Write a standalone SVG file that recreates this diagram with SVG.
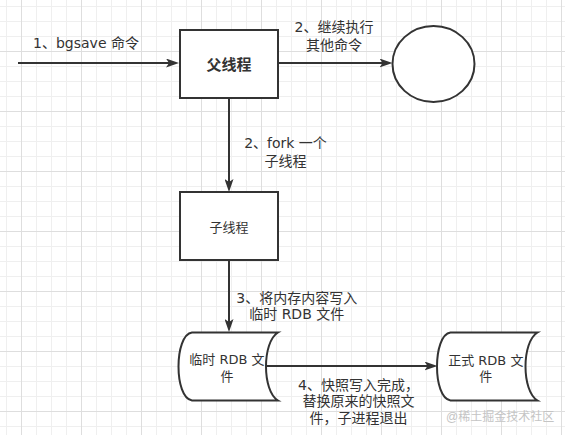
<svg xmlns="http://www.w3.org/2000/svg" width="565" height="435" viewBox="0 0 565 435">
<style>
  .shape{fill:#ffffff;stroke:#333333;stroke-width:2}
  .edge{fill:none;stroke:#333333;stroke-width:2}
  .lbl{font-family:"Liberation Sans","Noto Sans CJK SC",sans-serif;font-size:14px;fill:#333333;text-anchor:middle}
  .ntxt{font-family:"Liberation Sans","Noto Sans CJK SC",sans-serif;font-size:13px;fill:#333333;text-anchor:middle}
  .lat{font-family:"DejaVu Sans","Liberation Sans",sans-serif}
  .bold{font-size:15px;font-weight:bold}
  .wm{font-family:"Liberation Sans","Noto Sans CJK SC",sans-serif;font-size:12px;fill:#c4c4c4}
</style>
<defs>
  <pattern id="grid" x="21" y="51" width="60" height="60" patternUnits="userSpaceOnUse">
    <rect x="15" y="0" width="1" height="60" fill="#efefef"/>
    <rect x="30" y="0" width="1" height="60" fill="#efefef"/>
    <rect x="45" y="0" width="1" height="60" fill="#efefef"/>
    <rect x="0" y="15" width="60" height="1" fill="#efefef"/>
    <rect x="0" y="30" width="60" height="1" fill="#efefef"/>
    <rect x="0" y="45" width="60" height="1" fill="#efefef"/>
    <rect x="0" y="0" width="1" height="60" fill="#dedede"/>
    <rect x="0" y="0" width="60" height="1" fill="#dedede"/>
  </pattern>
  <marker id="arr" viewBox="0 0 13 9" markerWidth="13" markerHeight="9" refX="7" refY="4.5" orient="auto" markerUnits="userSpaceOnUse">
    <path d="M0,0 L13,4.5 L0,9 L3,4.5 Z" fill="#333333"/>
  </marker>
</defs>
<rect x="0" y="0" width="565" height="435" fill="#ffffff"/>
<rect x="0" y="0" width="565" height="435" fill="url(#grid)"/>

<g id="connectors">
  <path class="edge" d="M18,63 L173,63" marker-end="url(#arr)"/>
  <path class="edge" d="M278,63 L386.5,63" marker-end="url(#arr)"/>
  <path class="edge" d="M229,98 L229,186" marker-end="url(#arr)"/>
  <path class="edge" d="M229,260 L229,326" marker-end="url(#arr)"/>
  <path class="edge" d="M267,366 L431.5,366" marker-end="url(#arr)"/>
  <text class="lbl" x="86" y="47.5"><tspan class="lat">1</tspan>、<tspan class="lat">bgsave </tspan>命令</text>
  <text class="lbl" x="334" y="31.7"><tspan class="lat">2</tspan>、继续执行</text>
  <text class="lbl" x="334" y="50">其他命令</text>
  <text class="lbl" x="285.5" y="148.3"><tspan class="lat">2</tspan>、<tspan class="lat">fork </tspan>一个</text>
  <text class="lbl" x="285.5" y="165.8">子线程</text>
  <text class="lbl" x="296.7" y="302.8"><tspan class="lat">3</tspan>、将内存内容写入</text>
  <text class="lbl" x="296.7" y="318.8">临时<tspan class="lat"> RDB </tspan>文件</text>
  <text class="lbl" x="358.5" y="390"><tspan class="lat">4</tspan>、快照写入完成，</text>
  <text class="lbl" x="358.5" y="405.8">替换原来的快照文</text>
  <text class="lbl" x="358.5" y="422.5">件，子进程退出</text>
</g>

<g id="parent">
  <rect class="shape" x="180" y="30" width="98" height="68"/>
  <text class="ntxt bold" x="229" y="70">父线程</text>
</g>

<g id="circle">
  <ellipse class="shape" cx="433.5" cy="64" rx="41" ry="38"/>
</g>

<g id="child">
  <rect class="shape" x="180" y="192" width="98" height="68"/>
  <text class="ntxt" x="229" y="231.8">子线程</text>
</g>

<g id="temp-rdb">
  <path class="shape" d="M192,332.5 L278,332.5 C262,342 262,391 278,400.5 L192,400.5 C174,398 174,335 192,332.5 Z"/>
  <text class="ntxt" x="227" y="364.4">临时<tspan class="lat"> RDB </tspan>文</text>
  <text class="ntxt" x="227" y="380.6">件</text>
</g>

<g id="formal-rdb">
  <path class="shape" d="M450.5,332.5 L537.5,332.5 C521.5,342 521.5,391 537.5,400.5 L450.5,400.5 C432.5,398 432.5,335 450.5,332.5 Z"/>
  <text class="ntxt" x="485.8" y="365">正式<tspan class="lat"> RDB </tspan>文</text>
  <text class="ntxt" x="485.8" y="380.5">件</text>
</g>

<text class="wm" x="446" y="421">@稀土掘金技术社区</text>
</svg>
